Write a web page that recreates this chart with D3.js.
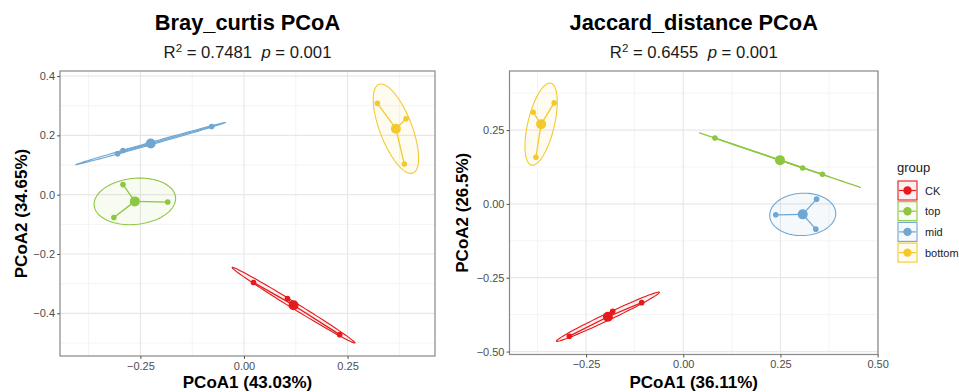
<!DOCTYPE html>
<html>
<head>
<meta charset="utf-8">
<script src="https://cdn.jsdelivr.net/npm/d3@7"></script>
<style>
  body { margin: 0; background: #fff; }
  svg text { font-family: "Liberation Sans", Arial, sans-serif; }
</style>
</head>
<body>
<div id="chart"></div>
<script>
const groups = ["CK", "top", "mid", "bottom"];
const groupColors = ["#E41A1C", "#8DC63F", "#6FA7D2", "#F5C92E"];

// sample scores, three samples per group (same order as groups)
const brayPC1 = [[0.023, 0.105, 0.231], [-0.292, -0.314, -0.184], [-0.305, -0.292, -0.078], [0.322, 0.391, 0.387]];
const brayPC2 = [[-0.296, -0.350, -0.472], [0.034, -0.077, -0.025], [0.138, 0.149, 0.230], [0.308, 0.256, 0.103]];
const jacPC1 = [[-0.293, -0.1815, -0.107], [0.0815, 0.307, 0.358], [0.238, 0.343, 0.341], [-0.386, -0.332, -0.379]];
const jacPC2 = [[-0.448, -0.364, -0.3345], [0.223, 0.1216, 0.100], [-0.037, 0.016, -0.0855], [0.310, 0.342, 0.158]];

const brayXTicks = [-0.25, 0, 0.25];
const brayYTicks = [-0.4, -0.2, 0, 0.2, 0.4];
const jacXTicks = [-0.25, 0, 0.25, 0.5];
const jacYTicks = [-0.5, -0.25, 0, 0.25];

const width = 959, height = 392;
const svg = d3.select("#chart").append("svg")
  .attr("width", width).attr("height", height);

// ellipse radius on the sample covariance
const ellipseScale = Math.SQRT2;

function drawPanel(opt) {
  const x = d3.scaleLinear().domain(opt.xDomain).range([opt.left, opt.right]);
  const y = d3.scaleLinear().domain(opt.yDomain).range([opt.bottom, opt.top]);
  const g = svg.append("g");

  g.append("rect")
    .attr("x", opt.left).attr("y", opt.top)
    .attr("width", opt.right - opt.left).attr("height", opt.bottom - opt.top)
    .attr("fill", "#fff");

  // minor grid
  const midpoints = (t, step) => {
    const out = [];
    const lo = t[0] - step, hi = t[t.length - 1] + step;
    for (let v = lo; v <= hi + 1e-9; v += step) out.push(v + step / 2);
    return out;
  };
  const xs = opt.xTicks[1] - opt.xTicks[0], ys = opt.yTicks[1] - opt.yTicks[0];
  const xMinor = midpoints(opt.xTicks, xs).filter(v => v > opt.xDomain[0] && v < opt.xDomain[1]);
  const yMinor = midpoints(opt.yTicks, ys).filter(v => v > opt.yDomain[0] && v < opt.yDomain[1]);

  g.selectAll(".xminor").data(xMinor).enter().append("line")
    .attr("x1", d => x(d)).attr("x2", d => x(d))
    .attr("y1", opt.top).attr("y2", opt.bottom)
    .attr("stroke", "#f4f4f4").attr("stroke-width", 1);
  g.selectAll(".yminor").data(yMinor).enter().append("line")
    .attr("y1", d => y(d)).attr("y2", d => y(d))
    .attr("x1", opt.left).attr("x2", opt.right)
    .attr("stroke", "#f4f4f4").attr("stroke-width", 1);
  g.selectAll(".xmajor").data(opt.xTicks).enter().append("line")
    .attr("x1", d => x(d)).attr("x2", d => x(d))
    .attr("y1", opt.top).attr("y2", opt.bottom)
    .attr("stroke", "#e8e8e8").attr("stroke-width", 1.2);
  g.selectAll(".ymajor").data(opt.yTicks).enter().append("line")
    .attr("y1", d => y(d)).attr("y2", d => y(d))
    .attr("x1", opt.left).attr("x2", opt.right)
    .attr("stroke", "#e8e8e8").attr("stroke-width", 1.2);

  const clipId = "clip" + opt.id;
  g.append("clipPath").attr("id", clipId).append("rect")
    .attr("x", opt.left).attr("y", opt.top)
    .attr("width", opt.right - opt.left).attr("height", opt.bottom - opt.top);
  const plot = g.append("g").attr("clip-path", `url(#${clipId})`);

  groups.forEach((name, gi) => {
    const px = opt.pc1[gi], py = opt.pc2[gi];
    const n = px.length;
    const mx = d3.mean(px), my = d3.mean(py);
    let a = 0, b = 0, d = 0;
    for (let i = 0; i < n; i++) {
      a += (px[i] - mx) ** 2;
      b += (px[i] - mx) * (py[i] - my);
      d += (py[i] - my) ** 2;
    }
    a /= n - 1; b /= n - 1; d /= n - 1;
    // cholesky of covariance
    const l11 = Math.sqrt(a), l21 = b / l11, l22 = Math.sqrt(Math.max(d - l21 * l21, 0));
    const ell = d3.range(0, 101).map(k => {
      const t = 2 * Math.PI * k / 100;
      const u = Math.cos(t) * ellipseScale, v = Math.sin(t) * ellipseScale;
      return [x(mx + l11 * u), y(my + l21 * u + l22 * v)];
    });
    const col = groupColors[gi];
    plot.append("path")
      .attr("d", d3.line()(ell) + "Z")
      .attr("fill", col).attr("fill-opacity", 0.07)
      .attr("stroke", col).attr("stroke-width", 1.1);

    for (let i = 0; i < n; i++) {
      plot.append("line")
        .attr("x1", x(mx)).attr("y1", y(my))
        .attr("x2", x(px[i])).attr("y2", y(py[i]))
        .attr("stroke", col).attr("stroke-width", 1.3);
    }
    plot.selectAll(null).data(d3.range(n)).enter().append("circle")
      .attr("cx", i => x(px[i])).attr("cy", i => y(py[i]))
      .attr("r", 2.8).attr("fill", col);
    plot.append("circle")
      .attr("cx", x(mx)).attr("cy", y(my))
      .attr("r", 5).attr("fill", col);
  });

  g.append("rect")
    .attr("x", opt.left).attr("y", opt.top)
    .attr("width", opt.right - opt.left).attr("height", opt.bottom - opt.top)
    .attr("fill", "none").attr("stroke", "#888").attr("stroke-width", 1.2);

  const fmtX = d3.format(".2f");
  const xAxis = g.append("g")
    .attr("transform", `translate(0,${opt.bottom})`)
    .call(d3.axisBottom(x).tickValues(opt.xTicks).tickSize(3).tickFormat(fmtX));
  const yAxis = g.append("g")
    .attr("transform", `translate(${opt.left},0)`)
    .call(d3.axisLeft(y).tickValues(opt.yTicks).tickSize(3).tickFormat(d3.format(opt.yFormat)));
  [xAxis, yAxis].forEach(ax => {
    ax.select(".domain").remove();
    ax.selectAll(".tick line").attr("stroke", "#555");
    ax.selectAll(".tick text").attr("fill", "#4d4d4d").style("font-size", "11px")
      .style("font-family", "Liberation Sans, Arial, sans-serif");
  });
  xAxis.selectAll(".tick text").attr("dy", "0.71em").attr("y", 6);
  yAxis.selectAll(".tick text").attr("x", -5);

  const cx = (opt.left + opt.right) / 2;
  g.append("text").attr("x", cx).attr("y", 30)
    .attr("text-anchor", "middle").style("font-size", "21.8px").style("font-weight", "bold")
    .text(opt.title);
  const sub = g.append("text").attr("x", cx).attr("y", 58)
    .attr("text-anchor", "middle").style("font-size", "16.7px").attr("fill", "#1a1a1a");
  sub.append("tspan").text("R");
  sub.append("tspan").attr("dy", -6).style("font-size", "11.5px").text("2");
  sub.append("tspan").attr("dy", 6).text(" = " + opt.r2 + "\u00a0 ");
  sub.append("tspan").style("font-style", "italic").text("p");
  sub.append("tspan").text(" = " + opt.p);

  g.append("text").attr("x", cx).attr("y", 388)
    .attr("text-anchor", "middle").style("font-size", "17px").style("font-weight", "bold")
    .text(opt.xLabel);
  g.append("text")
    .attr("transform", `translate(${opt.yLabelX},${(opt.top + opt.bottom) / 2}) rotate(-90)`)
    .attr("text-anchor", "middle").style("font-size", "17px").style("font-weight", "bold")
    .text(opt.yLabel);
}

drawPanel({
  id: 1, left: 60, right: 435, top: 71, bottom: 356,
  xDomain: [-0.444, 0.461], yDomain: [-0.544, 0.417],
  xTicks: brayXTicks, yTicks: brayYTicks, yFormat: ".1f",
  pc1: brayPC1, pc2: brayPC2,
  title: "Bray_curtis PCoA", r2: "0.7481", p: "0.001",
  xLabel: "PCoA1 (43.03%)", yLabel: "PCoA2 (34.65%)", yLabelX: 27
});
drawPanel({
  id: 2, left: 509.5, right: 878, top: 71, bottom: 354.5,
  xDomain: [-0.447, 0.501], yDomain: [-0.51, 0.45],
  xTicks: jacXTicks, yTicks: jacYTicks, yFormat: ".2f",
  pc1: jacPC1, pc2: jacPC2,
  title: "Jaccard_distance PCoA", r2: "0.6455", p: "0.001",
  xLabel: "PCoA1 (36.11%)", yLabel: "PCoA2 (26.5%)", yLabelX: 468
});

// legend
const legend = svg.append("g");
legend.append("text").attr("x", 897).attr("y", 172)
  .style("font-size", "13px").attr("fill", "#1a1a1a").text("group");
const key = legend.selectAll(".key").data(groups).enter().append("g")
  .attr("transform", (d, i) => `translate(898,${181 + i * 20.7})`);
key.append("rect").attr("width", 19).attr("height", 19)
  .attr("fill", (d, i) => groupColors[i]).attr("fill-opacity", 0.07)
  .attr("stroke", (d, i) => groupColors[i]).attr("stroke-width", 1.1);
key.append("line").attr("x1", 1).attr("x2", 18).attr("y1", 9.5).attr("y2", 9.5)
  .attr("stroke", (d, i) => groupColors[i]).attr("stroke-width", 1.2);
key.append("circle").attr("cx", 9.5).attr("cy", 9.5).attr("r", 4.2)
  .attr("fill", (d, i) => groupColors[i]);
key.append("text").attr("x", 27).attr("y", 13.5)
  .style("font-size", "11px").attr("fill", "#1a1a1a").text(d => d);
</script>
</body>
</html>
